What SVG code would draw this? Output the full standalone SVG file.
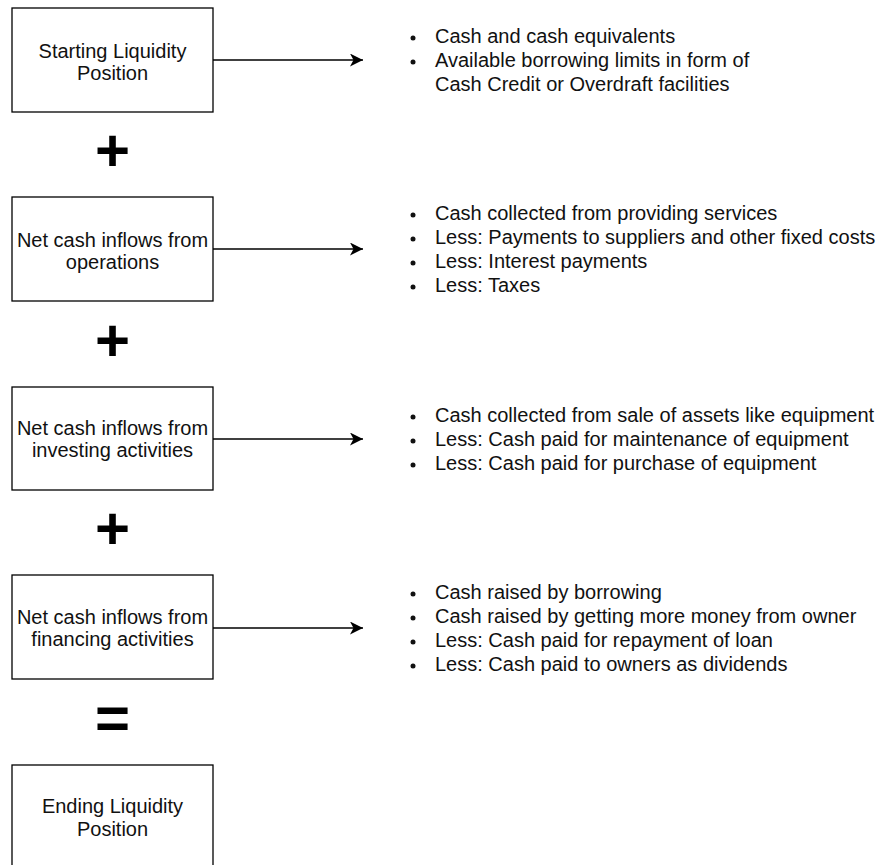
<svg xmlns="http://www.w3.org/2000/svg" width="882" height="865" viewBox="0 0 882 865">
<style>
.box{fill:#fff;stroke:#000;stroke-width:1.3}
.bt{font-family:"Liberation Sans",Arial,sans-serif;font-size:20px;fill:#111;text-anchor:middle}
.lt{font-family:"Liberation Sans",Arial,sans-serif;font-size:20px;fill:#111}
.op{font-family:"Liberation Sans",Arial,sans-serif;font-size:60px;font-weight:bold;fill:#000;text-anchor:middle}
.conn{stroke:#000;stroke-width:1.3;fill:none}
.dot{fill:#111}
</style>
<defs>
<marker id="arr" markerUnits="userSpaceOnUse" markerWidth="16" markerHeight="16" refX="13" refY="6.5" orient="auto">
<path d="M0,0 L13,6.5 L0,13 L3.5,6.5 Z" fill="#000"/>
</marker>
</defs>
<rect width="882" height="865" fill="#fff"/>
<g id="n1"><rect class="box" x="12" y="8" width="201" height="104"/><text class="bt" x="112.5" y="58">Starting Liquidity</text><text class="bt" x="112.5" y="80">Position</text></g>
<g id="n2"><rect class="box" x="12" y="197" width="201" height="104"/><text class="bt" x="112.5" y="247">Net cash inflows from</text><text class="bt" x="112.5" y="269">operations</text></g>
<g id="n3"><rect class="box" x="12" y="387" width="201" height="103"/><text class="bt" x="112.5" y="435">Net cash inflows from</text><text class="bt" x="112.5" y="457">investing activities</text></g>
<g id="n4"><rect class="box" x="12" y="575" width="201" height="104"/><text class="bt" x="112.5" y="624">Net cash inflows from</text><text class="bt" x="112.5" y="646">financing activities</text></g>
<g id="n5"><rect class="box" x="12" y="765" width="201" height="104"/><text class="bt" x="112.5" y="813">Ending Liquidity</text><text class="bt" x="112.5" y="836">Position</text></g>
<g id="ops">
<text class="op" x="112.5" y="171">+</text>
<text class="op" x="112.5" y="361">+</text>
<text class="op" x="112.5" y="549">+</text>
<text class="op" x="112.5" y="738">=</text>
</g>
<g id="connectors">
<line class="conn" x1="213" y1="60" x2="363" y2="60" marker-end="url(#arr)"/>
<line class="conn" x1="213" y1="249" x2="363" y2="249" marker-end="url(#arr)"/>
<line class="conn" x1="213" y1="439" x2="363" y2="439" marker-end="url(#arr)"/>
<line class="conn" x1="213" y1="628" x2="363" y2="628" marker-end="url(#arr)"/>
</g>
<g id="list1">
<circle class="dot" cx="413" cy="38" r="2.5"/><text class="lt" x="435" y="43">Cash and cash equivalents</text>
<circle class="dot" cx="413" cy="62" r="2.5"/><text class="lt" x="435" y="67">Available borrowing limits in form of</text>
<text class="lt" x="435" y="91">Cash Credit or Overdraft facilities</text>
</g>
<g id="list2">
<circle class="dot" cx="413" cy="215" r="2.5"/><text class="lt" x="435" y="220">Cash collected from providing services</text>
<circle class="dot" cx="413" cy="239" r="2.5"/><text class="lt" x="435" y="244">Less: Payments to suppliers and other fixed costs</text>
<circle class="dot" cx="413" cy="263" r="2.5"/><text class="lt" x="435" y="268">Less: Interest payments</text>
<circle class="dot" cx="413" cy="287" r="2.5"/><text class="lt" x="435" y="292">Less: Taxes</text>
</g>
<g id="list3">
<circle class="dot" cx="413" cy="417" r="2.5"/><text class="lt" x="435" y="422">Cash collected from sale of assets like equipment</text>
<circle class="dot" cx="413" cy="441" r="2.5"/><text class="lt" x="435" y="446">Less: Cash paid for maintenance of equipment</text>
<circle class="dot" cx="413" cy="465" r="2.5"/><text class="lt" x="435" y="470">Less: Cash paid for purchase of equipment</text>
</g>
<g id="list4">
<circle class="dot" cx="413" cy="594" r="2.5"/><text class="lt" x="435" y="599">Cash raised by borrowing</text>
<circle class="dot" cx="413" cy="618" r="2.5"/><text class="lt" x="435" y="623">Cash raised by getting more money from owner</text>
<circle class="dot" cx="413" cy="642" r="2.5"/><text class="lt" x="435" y="647">Less: Cash paid for repayment of loan</text>
<circle class="dot" cx="413" cy="666" r="2.5"/><text class="lt" x="435" y="671">Less: Cash paid to owners as dividends</text>
</g>
</svg>
